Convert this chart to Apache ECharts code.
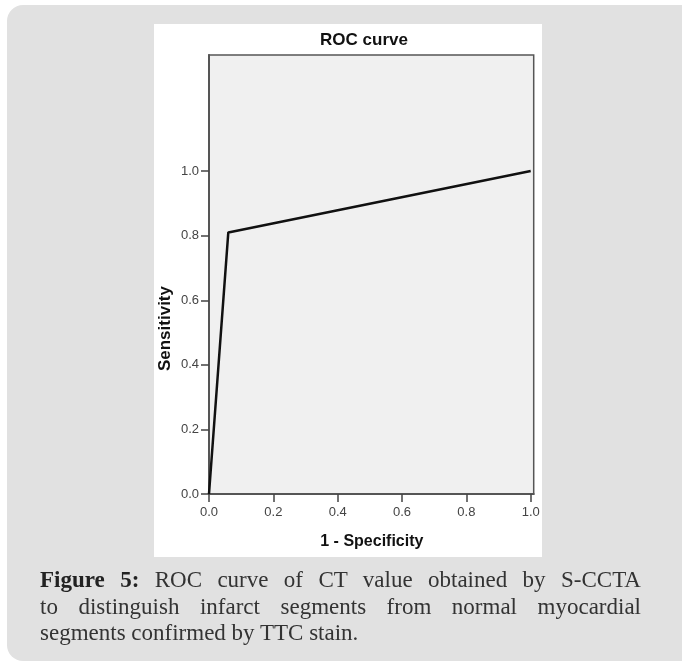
<!DOCTYPE html>
<html>
<head>
<meta charset="utf-8">
<script src="https://cdn.jsdelivr.net/npm/echarts@6/dist/echarts.min.js"></script>
<style>
  html, body { margin: 0; padding: 0; background: #ffffff; }
  #wrap { position: relative; width: 682px; height: 666px; overflow: hidden; }
  #panel { position: absolute; left: 7px; top: 5px; width: 700px; height: 656px; background: #e1e1e1; border-radius: 16px; }
  #chart { position: absolute; left: 0; top: 0; width: 682px; height: 666px; }
  #caption { position: absolute; left: 40px; top: 567px; width: 601px; font-family: "Liberation Serif", "DejaVu Serif", serif; font-size: 23px; line-height: 26.5px; color: #333; }
  #caption .j { text-align: justify; text-align-last: justify; }
  #caption b { color: #222; }
</style>
</head>
<body>
<div id="wrap">
  <div id="panel"></div>
  <div id="chart"></div>
  <div id="caption">
    <div class="j"><b>Figure 5:</b> ROC curve of CT value obtained by S-CCTA</div>
    <div class="j">to distinguish infarct segments from normal myocardial</div>
    <div>segments confirmed by TTC stain.</div>
  </div>
</div>
<script>
// Data
const specificityComplement = [0, 0.06, 1];   // 1 - Specificity
const sensitivity = [0, 0.81, 1];             // Sensitivity
const tickValues = [0, 0.2, 0.4, 0.6, 0.8, 1.0];
const chartTitle = 'ROC curve';
const xName = '1 - Specificity';
const yName = 'Sensitivity';

const points = specificityComplement.map((x, i) => [x, sensitivity[i]]);

const chart = echarts.init(document.getElementById('chart'), null, { renderer: 'canvas' });
const FONT = 'Liberation Sans, Arial, sans-serif';
const labelFont = { fontFamily: FONT, fontSize: 13, color: '#444' };
chart.setOption({
  backgroundColor: 'transparent',
  animation: false,
  graphic: [
    { type: 'rect', z: -10, shape: { x: 154, y: 24, width: 388, height: 533 }, style: { fill: '#ffffff' } },
    { type: 'text', x: 364, y: 40, style: { text: chartTitle, fontFamily: FONT, fontSize: 17, fontWeight: 'bold', fill: '#111', align: 'center', verticalAlign: 'middle' } }
  ],
  grid: {
    left: 209, top: 55, right: 148.3, bottom: 172,
    show: true, backgroundColor: '#f0f0f0', borderColor: '#555', borderWidth: 1.5
  },
  xAxis: {
    type: 'value', min: 0, max: 1.0093,
    axisLine: { show: true, onZero: false, lineStyle: { color: '#555', width: 2 } },
    axisTick: { show: true, inside: false, length: 8, customValues: tickValues, lineStyle: { color: '#444', width: 1.5 } },
    axisLabel: { ...labelFont, margin: 12, customValues: tickValues, formatter: v => v.toFixed(1) },
    splitLine: { show: false }
  },
  yAxis: {
    type: 'value', min: 0, max: 1.3595,
    axisLine: { show: true, onZero: false, lineStyle: { color: '#555', width: 2 } },
    axisTick: { show: true, inside: false, length: 8, customValues: tickValues, lineStyle: { color: '#444', width: 1.5 } },
    axisLabel: { ...labelFont, margin: 10, customValues: tickValues, formatter: v => v.toFixed(1) },
    splitLine: { show: false }
  },
  series: [{
    type: 'line',
    data: points,
    showSymbol: false,
    symbol: 'none',
    lineStyle: { color: '#111', width: 2.5 },
    z: 5
  }]
});

// Axis names centred on the 0–1 data range (as in the original software)
const xMid = chart.convertToPixel({ gridIndex: 0 }, [0.5, 0]);
const yMid = chart.convertToPixel({ gridIndex: 0 }, [0, 0.5]);
chart.setOption({
  graphic: [
    { type: 'rect', z: -10, shape: { x: 154, y: 24, width: 388, height: 533 }, style: { fill: '#ffffff' } },
    { type: 'text', x: 364, y: 40, style: { text: chartTitle, fontFamily: FONT, fontSize: 17, fontWeight: 'bold', fill: '#111', align: 'center', verticalAlign: 'middle' } },
    { type: 'text', x: xMid[0] + 2, y: xMid[1] + 48, style: { text: xName, fontFamily: FONT, fontSize: 16, fontWeight: 'bold', fill: '#111', align: 'center', verticalAlign: 'middle' } },
    { type: 'text', x: yMid[0] - 44, y: yMid[1] - 4, rotation: Math.PI / 2, style: { text: yName, fontFamily: FONT, fontSize: 17, fontWeight: 'bold', fill: '#111', align: 'center', verticalAlign: 'middle' } }
  ]
}, { replaceMerge: ['graphic'] });
</script>
</body>
</html>
